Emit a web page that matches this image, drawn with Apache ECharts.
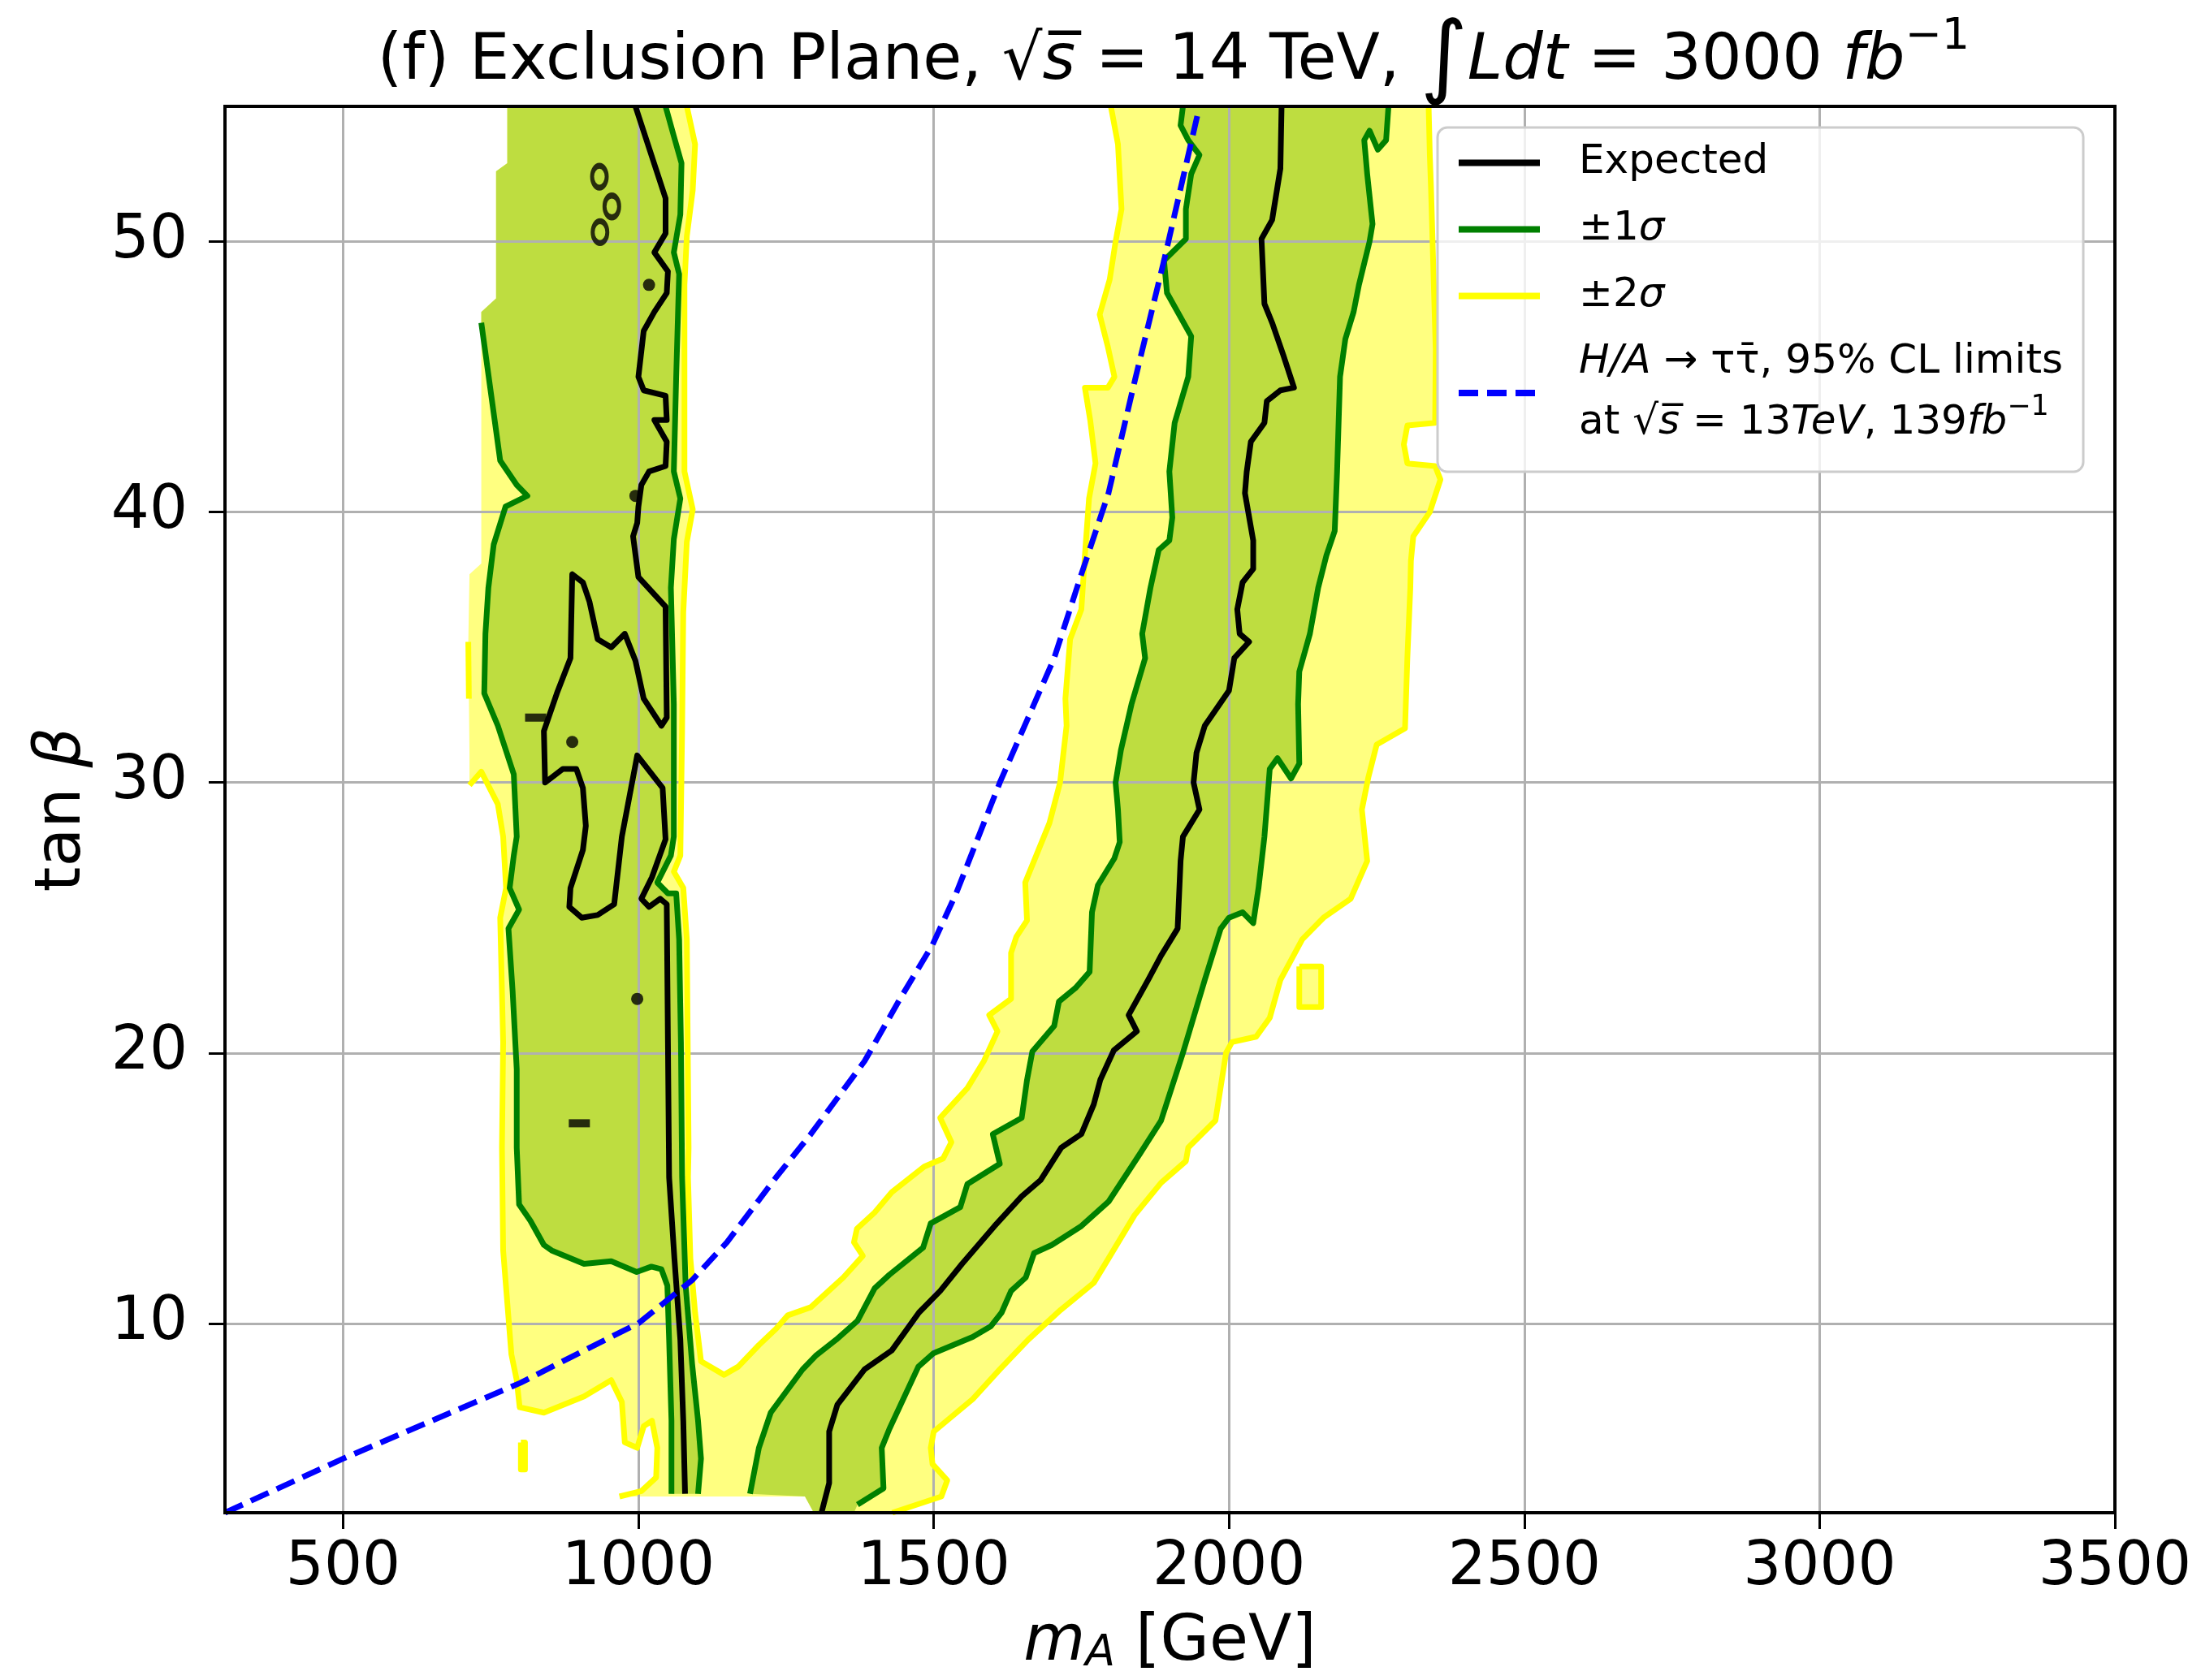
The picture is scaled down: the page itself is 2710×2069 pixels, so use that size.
<!DOCTYPE html>
<html><head><meta charset="utf-8">
<script src="https://cdn.jsdelivr.net/npm/echarts@6/dist/echarts.min.js"></script>
<style>html,body{margin:0;padding:0;background:#fff}#c{width:2710px;height:2069px}</style>
</head><body><div id="c"></div>
<script>
// ---------- tick labels ----------
const xTicks = [500, 1000, 1500, 2000, 2500, 3000, 3500];
const yTicks = [10, 20, 30, 40, 50];

// ---------- ±2σ (yellow) region, pieces of its outline [mA, tanβ] ----------
const y2LeftBlock = [[778,55],[778,52.9],[759,52.6],[759,47.9],[734,47.4],[734,38.1],[714,37.7]];
const y2LeftStub = [[712,35.2],[713,33.1]];
const y2LeftBlock2 = [[714,31.0]];
const y2LeftLine = [[714,29.9],[734,30.4],[762,29.2],[771,28.0],[776,26.1],[766,25.0],[771,20.4],[769,16.5],[771,12.7],[785,8.85],[794,7.9],[799,6.9],[840,6.7],[908,7.3],[954,7.9],[972,7.1],[977,5.6],[998,5.4],[1009,6.2],[1023,6.4],[1032,5.4],[1030,4.3],[1005,3.8],[968,3.6]];
const y2Bottom = [[1282,3.6],[1297,3.0]];
const y2RightOuter = [[1430,3.0],[1513,3.6],[1523,4.2],[1498,4.8],[1495,5.4],[1500,6.0],[1566,7.2],[1612,8.3],[1660,9.4],[1715,10.5],[1771,11.5],[1796,12.4],[1840,14.0],[1885,15.2],[1927,16.0],[1931,16.5],[1977,17.5],[1995,20.0],[2005,20.4],[2046,20.6],[2069,21.3],[2087,22.7],[2124,24.2],[2160,25.0],[2206,25.7],[2234,27.1],[2225,29.0],[2236,30.2],[2250,31.4],[2298,32.0],[2302,34.6],[2307,37.2],[2308,38.2],[2312,39.1],[2340,40.0],[2358,41.2],[2349,41.7],[2302,41.8],[2296,42.5],[2302,43.2],[2349,43.3],[2350,46],[2346,49],[2342,52],[2340,53.2],[2338,55]];
const y2InnerRight = [[1800,55],[1812,53.6],[1818,51.2],[1808,50],[1798,48.6],[1781,47.3],[1795,46.1],[1806,45.0],[1795,44.6],[1756,44.6],[1765,43.4],[1774,41.8],[1763,40.5],[1756,38.4],[1750,36.4],[1731,35.3],[1723,33.1],[1725,32.1],[1714,30.0],[1696,28.5],[1655,26.3],[1658,24.9],[1640,24.3],[1631,23.7],[1631,22.0],[1594,21.4],[1608,20.8],[1585,19.7],[1557,18.7],[1511,17.6],[1530,16.7],[1516,16.1],[1484,15.8],[1429,14.85],[1400,14.1],[1370,13.5],[1365,13.0],[1380,12.5],[1347,11.7],[1322,11.2],[1292,10.6],[1253,10.3],[1233,9.8],[1204,9.2],[1169,8.4],[1145,8.1]];
const y2InnerLeft = [[1145,8.1],[1106,8.6],[1096,10.4],[1088,12.4],[1084,15.4],[1085,16.5],[1082,24.2],[1076,26.1],[1060,26.7],[1071,27.3],[1074,31.9],[1076,36.3],[1082,38.9],[1092,40.1],[1078,41.5],[1078,48.4],[1082,50.2],[1092,51.9],[1096,53.6],[1082,55]];
const y2IslandSquare = [[2119,23.2],[2156,23.2],[2156,21.7],[2119,21.7],[2119,23.2]];
const y2IslandSmall = [[801,5.6],[808,5.6],[808,4.6],[801,4.6],[801,5.6]];

// ---------- ±1σ (green) regions ----------
const g1LeftBlock = [[778,55],[778,52.9],[759,52.6],[759,47.9],[734,47.4]];
const g1LeftLine = [[734,47.0],[766,41.9],[794,41.0],[812,40.6],[775,40.2],[755,38.8],[746,37.2],[741,35.5],[739,33.3],[762,32.1],[789,30.3],[794,28.0],[789,27.3],[782,26.1],[798,25.3],[780,24.6],[787,22.3],[794,19.4],[794,16.5],[798,14.4],[817,13.8],[840,12.9],[853,12.7],[908,12.2],[954,12.3],[997,11.9],[1022,12.1],[1039,12.0],[1049,11.4],[1052,9.4],[1056,6.4],[1056,3.7]];
const g1RightLine = [[1101,3.7],[1106,5.0],[1101,6.4],[1091,8.5],[1080,11.4],[1074,15.4],[1072,20.4],[1069,24.2],[1064,25.9],[1050,25.9],[1032,26.3],[1055,27.3],[1060,28.0],[1060,32.9],[1055,37.2],[1060,39.0],[1071,40.5],[1060,41.5],[1064,45.0],[1069,48.8],[1060,49.6],[1071,51.0],[1073,52.9],[1060,53.9],[1046,55]];
const g2LeftLine = [[1922,55],[1918,54.3],[1931,53.75],[1950,53.2],[1936,52.5],[1927,51.2],[1927,50.1],[1890,49.3],[1895,48.1],[1936,46.5],[1931,45.0],[1908,43.3],[1899,41.5],[1904,39.8],[1899,38.95],[1881,38.6],[1867,37.2],[1853,35.5],[1858,34.6],[1835,32.9],[1817,31.2],[1808,30.0],[1812,29.0],[1815,27.8],[1806,27.2],[1778,26.2],[1768,25.2],[1764,23.0],[1740,22.4],[1712,21.9],[1704,21.0],[1667,20.05],[1658,19.0],[1649,17.6],[1600,17.0],[1612,15.9],[1557,15.15],[1545,14.3],[1495,13.7],[1482,12.8],[1425,11.8],[1400,11.3],[1371,10.1],[1335,9.4],[1300,8.8],[1278,8.3],[1224,6.7],[1204,5.4],[1189,3.7]];
const g2Bottom = [[1282,3.6],[1297,3.0],[1365,3.0]];
const g2RightLine = [[1371,3.3],[1415,3.9],[1412,5.4],[1425,6.1],[1474,8.4],[1500,8.9],[1566,9.5],[1597,9.9],[1615,10.4],[1631,11.2],[1656,11.7],[1670,12.6],[1700,12.9],[1750,13.6],[1796,14.5],[1850,16.3],[1885,17.5],[1922,20.0],[1959,22.7],[1986,24.6],[2000,25.0],[2023,25.2],[2041,24.8],[2050,26.1],[2060,28.0],[2069,30.5],[2082,30.9],[2105,30.15],[2119,30.7],[2117,32.9],[2119,34.1],[2137,35.5],[2151,37.2],[2165,38.4],[2179,39.3],[2183,41.5],[2188,45.0],[2197,46.4],[2211,47.4],[2220,48.4],[2238,50.0],[2243,50.65],[2234,52.5],[2229,53.75],[2238,54.1],[2252,53.4],[2266,53.75],[2270,55]];

// ---------- expected (black) contours ----------
const expLeft = [[995,55],[1046,51.6],[1046,50.3],[1027,49.6],[1050,48.9],[1048,48.1],[1027,47.4],[1009,46.7],[1000,45.0],[1009,44.5],[1046,44.3],[1048,43.4],[1027,43.4],[1048,42.6],[1046,41.7],[1018,41.5],[1005,41.0],[1000,40.2],[998,39.6],[991,39.1],[1000,37.6],[1046,36.5],[1048,32.4],[1039,32.1],[1009,33.1],[995,34.5],[977,35.5],[954,35.0],[931,35.3],[917,36.7],[906,37.4],[888,37.7],[885,34.6],[862,33.3],[840,31.9],[842,30.0],[872,30.5],[895,30.5],[906,29.8],[911,28.4],[906,27.5],[885,26.1],[883,25.4],[904,25.0],[931,25.1],[959,25.5],[972,28.0],[998,31.0],[1041,29.8],[1046,27.9],[1023,26.5],[1005,25.7],[1018,25.4],[1037,25.7],[1048,25.5],[1050,20.4],[1052,15.4],[1061,12.4],[1071,9.4],[1076,6.4],[1079,3.7]];
const expRight = [[2089,55],[2087,52.7],[2073,50.8],[2055,50.1],[2060,47.7],[2073,47.0],[2092,45.8],[2110,44.6],[2087,44.5],[2064,44.1],[2060,43.3],[2037,42.6],[2030,41.5],[2027,40.7],[2041,38.95],[2041,37.9],[2023,37.4],[2014,36.4],[2018,35.5],[2034,35.2],[2009,34.6],[2000,33.4],[1959,32.1],[1945,31.1],[1940,30.0],[1950,29.0],[1922,28.0],[1918,27.1],[1913,24.6],[1885,23.6],[1863,22.7],[1830,21.4],[1844,20.8],[1805,20.1],[1782,19.0],[1771,18.1],[1750,17.0],[1716,16.5],[1681,15.3],[1649,14.7],[1603,13.6],[1548,12.2],[1511,11.2],[1475,10.4],[1429,9.0],[1383,8.3],[1337,7.0],[1323,6.0],[1323,4.1],[1310,3.0]];
const expRings = [[934,52.4],[955,51.3],[935,50.35]];
const expDots = [[1018,48.4],[995,40.6],[888,31.5],[998,22.0]];
const expDashes = [[826,32.4],[900,17.4]];

// ---------- H/A -> tau tau 13 TeV 139 fb-1 limit ----------
const limit13 = [[300,3.0],[500,5.0],[650,6.4],[800,7.8],[958,9.55],[1000,10.0],[1091,11.6],[1150,13.0],[1233,15.4],[1292,17.0],[1383,19.7],[1443,22.0],[1498,24.0],[1538,25.9],[1612,30.0],[1658,32.3],[1704,34.6],[1750,37.7],[1796,40.7],[1841,44.9],[1890,49.3],[1950,55]];

// ---------- build ----------
const FONT = 'DejaVu Sans';
const GRID = {left: 277, top: 131, width: 2327, height: 1732};
const C_Y2F = '#ffff80', C_Y2L = '#ffff00', C_G1F = '#bedd40', C_G1L = '#008000', C_EXP = '#000000', C_LIM = '#0000ff';
const LW = 7;

function poly(pts, color, z) {
  return {type: 'custom', coordinateSystem: 'cartesian2d', data: [pts[0]], silent: true, z: z, animation: false,
    renderItem: function (params, api) {
      return {type: 'polygon', shape: {points: pts.map(function (p) { return api.coord(p); })}, style: {fill: color}};
    }};
}
function pline(name, pts, color, width, z, dash) {
  return {type: 'line', name: name, data: pts, symbol: 'none', showSymbol: false, silent: true, animation: false, z: z,
    lineStyle: {color: color, width: width, type: dash || 'solid', join: 'round', cap: 'butt'}, itemStyle: {color: color}};
}

const yellowFill = [].concat(y2LeftBlock, y2LeftStub, y2LeftBlock2, y2LeftLine, y2Bottom, y2RightOuter, y2InnerRight, y2InnerLeft);
const green1Fill = [].concat(g1LeftBlock, g1LeftLine, g1RightLine);
const green2Fill = [].concat(g2LeftLine, g2Bottom, g2RightLine);

const series = [
  poly(yellowFill, C_Y2F, 0),
  poly(y2IslandSquare, C_Y2F, 0),
  poly(green1Fill, C_G1F, 0),
  poly(green2Fill, C_G1F, 0),
  pline('Expected', expLeft, C_EXP, LW, 5),
  pline('Expected', expRight, C_EXP, LW, 5),
  pline('±1σ', g1LeftLine, C_G1L, LW, 4),
  pline('±1σ', g1RightLine, C_G1L, LW, 4),
  pline('±1σ', g2LeftLine, C_G1L, LW, 4),
  pline('±1σ', g2RightLine, C_G1L, LW, 4),
  pline('±2σ', y2LeftLine, C_Y2L, LW, 3),
  pline('±2σ', y2LeftStub, C_Y2L, LW, 3),
  pline('±2σ', y2InnerRight.concat(y2InnerLeft), C_Y2L, LW, 3),
  pline('±2σ', y2RightOuter, C_Y2L, LW, 3),
  pline('±2σ', y2IslandSquare, C_Y2L, LW, 3),
  pline('±2σ', y2IslandSmall, C_Y2L, LW, 3),
  pline('limits', limit13, C_LIM, LW, 6, [24, 11]),
  {type: 'scatter', data: expRings, symbol: 'circle', symbolSize: [18, 27], silent: true, animation: false, z: 5,
    itemStyle: {color: 'rgba(0,0,0,0)', borderColor: C_EXP, borderWidth: 6}},
  {type: 'scatter', data: expDots, symbol: 'circle', symbolSize: 15, silent: true, animation: false, z: 5,
    itemStyle: {color: C_EXP}},
  {type: 'scatter', data: expDashes, symbol: 'rect', symbolSize: [26, 10], silent: true, animation: false, z: 5,
    itemStyle: {color: C_EXP}}
];

const txt = {color: '#000', fontFamily: FONT};
const chart = echarts.init(document.getElementById('c'), null, {renderer: 'canvas', width: 2710, height: 2069});
chart.setOption({
  animation: false,
  backgroundColor: '#ffffff',
  title: {
    text: '(f) Exclusion Plane, √{i|s̅} = 14 TeV, {int|∫}{i|Ldt} = 3000 {i|fb}{sup|−1}',
    left: 1440, textAlign: 'center', top: 14,
    textStyle: Object.assign({fontSize: 78, fontWeight: 'normal', lineHeight: 116, rich: {
      i: Object.assign({fontSize: 78, fontStyle: 'italic', lineHeight: 116}, txt),
      int: Object.assign({fontSize: 112, lineHeight: 116}, txt),
      sup: Object.assign({fontSize: 54, lineHeight: 64, verticalAlign: 'top'}, txt)
    }}, txt)
  },
  grid: Object.assign({outerBoundsMode: 'none', containLabel: false}, GRID),
  xAxis: {
    type: 'value', min: 300, max: 3500, z: 1,
    axisLine: {show: false, onZero: false},
    axisTick: {show: true, length: 20, lineStyle: {color: '#000', width: 3}, customValues: xTicks},
    axisLabel: Object.assign({customValues: xTicks, fontSize: 74, margin: 32,
      formatter: function (v) { return String(v); }}, txt),
    splitLine: {show: true, lineStyle: {color: '#b0b0b0', width: 3}},
    name: '{i|m}{s|A} [GeV]', nameLocation: 'middle', nameGap: 121,
    nameTextStyle: Object.assign({fontSize: 78, lineHeight: 80, rich: {
      i: Object.assign({fontSize: 78, fontStyle: 'italic', lineHeight: 80}, txt),
      s: Object.assign({fontSize: 54, fontStyle: 'italic', lineHeight: 36, verticalAlign: 'bottom'}, txt)
    }}, txt)
  },
  yAxis: {
    type: 'value', min: 3, max: 55, z: 1,
    axisLine: {show: false, onZero: false},
    axisTick: {show: true, length: 20, lineStyle: {color: '#000', width: 3}, customValues: yTicks},
    axisLabel: Object.assign({customValues: yTicks, fontSize: 74, margin: 46,
      formatter: function (v) { return String(v); }}, txt),
    splitLine: {show: true, lineStyle: {color: '#b0b0b0', width: 3}},
    name: 'tan {i|β}', nameLocation: 'middle', nameGap: 150, nameRotate: 90,
    nameTextStyle: Object.assign({fontSize: 78, lineHeight: 96, rich: {
      i: Object.assign({fontSize: 78, fontStyle: 'italic', lineHeight: 96}, txt)
    }}, txt)
  },
  legend: {
    data: ['Expected', '±1σ', '±2σ', 'limits'],
    orient: 'vertical', left: 1770, top: 157,
    itemWidth: 100, itemHeight: 20, itemGap: 7,
    padding: [6, 25, 22, 22],
    backgroundColor: 'rgba(255,255,255,0.8)', borderColor: '#cccccc', borderWidth: 3, borderRadius: 12,
    selectedMode: false, z: 20,
    itemStyle: {opacity: 0},
    lineStyle: {width: 8},
    textStyle: Object.assign({fontSize: 50, lineHeight: 75, padding: [0, 0, 0, 43], rich: {
      i: Object.assign({fontSize: 50, fontStyle: 'italic', lineHeight: 75}, txt),
      sup: Object.assign({fontSize: 35, lineHeight: 44, verticalAlign: 'top'}, txt)
    }}, txt),
    formatter: function (name) {
      if (name === '±1σ') return '±1{i|σ}';
      if (name === '±2σ') return '±2{i|σ}';
      if (name === 'limits') return '{i|H/A} → ττ̄, 95% CL limits\nat √{i|s̅} = 13{i|TeV}, 139{i|fb}{sup|−1}';
      return name;
    }
  },
  graphic: [{type: 'rect', silent: true, z: 15,
    shape: {x: GRID.left, y: GRID.top, width: GRID.width, height: GRID.height},
    style: {fill: null, stroke: '#000', lineWidth: 4}}],
  series: series
});
</script></body></html>
